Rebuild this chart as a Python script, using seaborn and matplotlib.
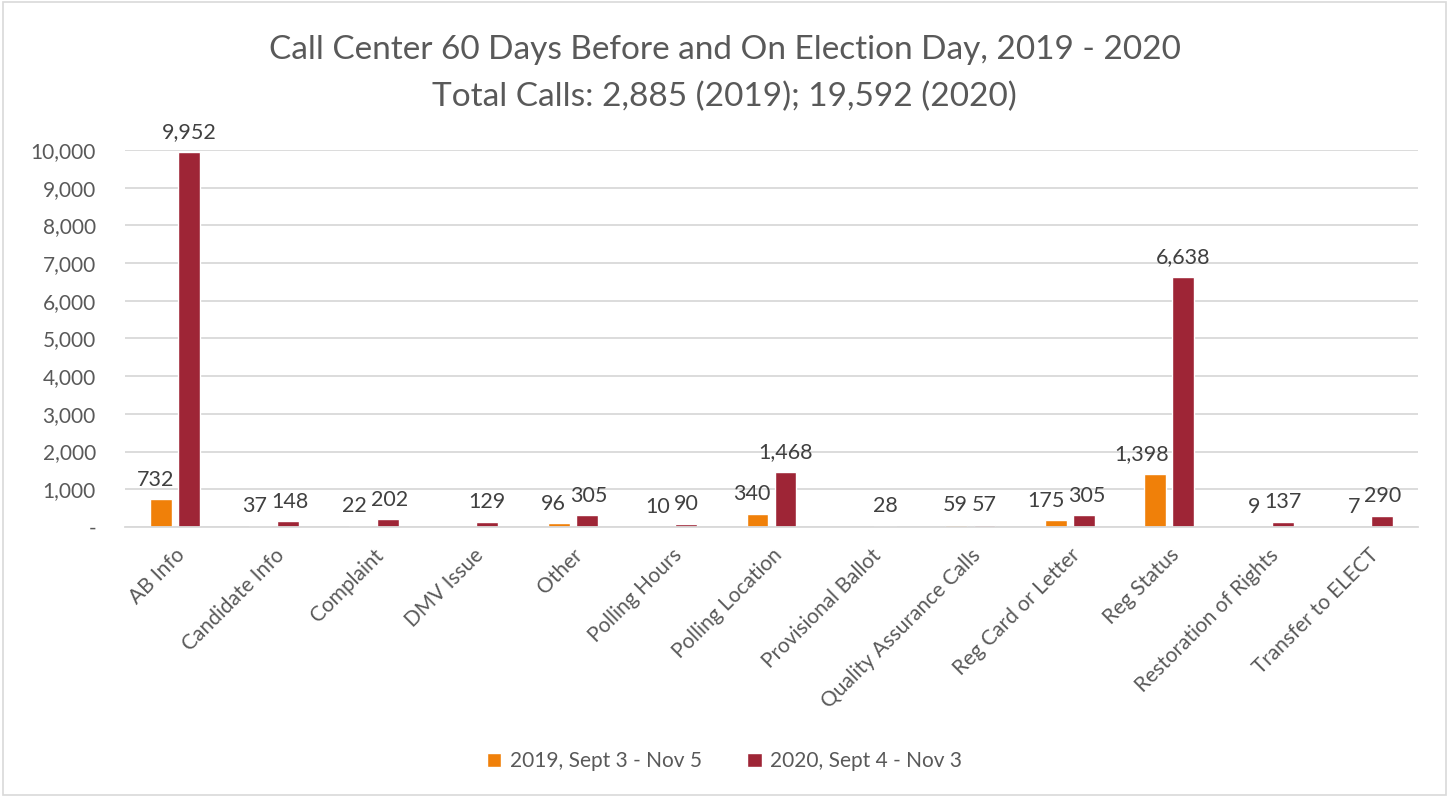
import numpy as np
import pandas as pd
import seaborn as sns
from matplotlib import pyplot
from matplotlib.patches import Rectangle

categories = ['AB Info', 'Candidate Info', 'Complaint', 'DMV Issue', 'Other', 'Polling Hours',
              'Polling Location', 'Provisional Ballot', 'Quality Assurance Calls', 'Reg Card or Letter',
              'Reg Status', 'Restoration of Rights', 'Transfer to ELECT']
calls_2019 = [732, 37, 22, np.nan, 96, 10, 340, np.nan, 59, 175, 1398, 9, 7]
calls_2020 = [9952, 148, 202, 129, 305, 90, 1468, 28, 57, 305, 6638, 137, 290]
series_names = ['2019, Sept 3 - Nov 5', '2020, Sept 4 - Nov 3']
colors = ['#F08009', '#9E2536']

frame = pd.DataFrame({
    'category': categories * 2,
    'series': [series_names[0]] * len(categories) + [series_names[1]] * len(categories),
    'calls': calls_2019 + calls_2020,
})

sns.set_theme(style='white')
pyplot.rcParams['font.family'] = ['Lato', 'DejaVu Sans']
text_color = '#595959'
label_pad = 7

fig = pyplot.figure(figsize=(14.49, 7.97), dpi=100)
ax = fig.add_axes([0.0863, 0.3388, 0.8923, 0.473])

sns.barplot(data=frame, x='category', y='calls', hue='series', order=categories,
            hue_order=series_names, palette=colors, width=0.564, gap=0.22,
            saturation=1, errorbar=None, ax=ax)

ax.set_ylim(0, 10000)
ax.set_xlim(-0.5, len(categories) - 0.5)

# data labels, keyed by category position
labels_by_pos = [{}, {}]
bars_by_pos = [{}, {}]
for k, container in enumerate(ax.containers):
    texts = ax.bar_label(container, fmt='{:,.0f}', padding=label_pad, fontsize=15.5,
                         color='#404040', clip_on=False)
    for bar, txt in zip(container, texts):
        pos = int(round(bar.get_x() + bar.get_width() / 2))
        labels_by_pos[k][pos] = txt
        bars_by_pos[k][pos] = bar

# push the left label out of the way when it hits the right label or bar (as Excel does)
fig.canvas.draw()
renderer = fig.canvas.get_renderer()
px_to_pt = 72 / fig.dpi
for pos, left in labels_by_pos[0].items():
    if pos not in labels_by_pos[1]:
        continue
    right = labels_by_pos[1][pos]
    lb = left.get_window_extent(renderer)
    rb = right.get_window_extent(renderer)
    bar_box = bars_by_pos[1][pos].get_window_extent(renderer)
    obstacle = None
    if lb.y0 < bar_box.y1:
        obstacle = bar_box.x0
    elif lb.y0 < rb.y1 and rb.y0 < lb.y1:
        obstacle = rb.x0
    if obstacle is None:
        continue
    overlap = lb.x1 + 4 - obstacle
    if overlap > 0:
        if obstacle == bar_box.x0:
            left.xyann = (-overlap * px_to_pt, label_pad)
        else:
            left.xyann = (-overlap * 0.75 * px_to_pt, label_pad)
            right.xyann = (overlap * 0.25 * px_to_pt, label_pad)

ax.set_yticks(range(0, 10001, 1000))
ax.set_yticklabels(['-'] + [f'{v:,}' for v in range(1000, 10001, 1000)])
ax.yaxis.grid(True, color='#D9D9D9', linewidth=1.3)
ax.set_axisbelow(True)
for side in ['top', 'right', 'left']:
    ax.spines[side].set_visible(False)
ax.spines['bottom'].set_color('#D9D9D9')
ax.spines['bottom'].set_linewidth(1.3)
ax.tick_params(axis='y', labelsize=15, labelcolor=text_color, length=0, pad=21)
ax.tick_params(axis='x', labelsize=15, labelcolor=text_color, length=0, pad=13)
pyplot.setp(ax.get_xticklabels(), rotation=45, ha='right', rotation_mode='anchor')
ax.set_xlabel('')
ax.set_ylabel('')

handles, labels = ax.get_legend_handles_labels()
ax.legend(handles, labels, loc='center', bbox_to_anchor=(0.5, 0.045), bbox_transform=fig.transFigure,
          ncol=2, frameon=False, fontsize=15, labelcolor=text_color, handlelength=0.7,
          handleheight=0.7, handletextpad=0.4, columnspacing=2.2)

fig.text(0.5, 0.937, 'Call Center 60 Days Before and On Election Day, 2019 - 2020',
         ha='center', va='center', fontsize=24, color=text_color)
fig.text(0.5, 0.878, 'Total Calls: 2,885 (2019); 19,592 (2020)',
         ha='center', va='center', fontsize=24, color=text_color)

fig.patches.append(Rectangle((0.002, 0.002), 0.996, 0.996, transform=fig.transFigure,
                             fill=False, edgecolor='#D9D9D9', linewidth=1.2))

pyplot.savefig('out.png', dpi=100)
pyplot.close(fig)
